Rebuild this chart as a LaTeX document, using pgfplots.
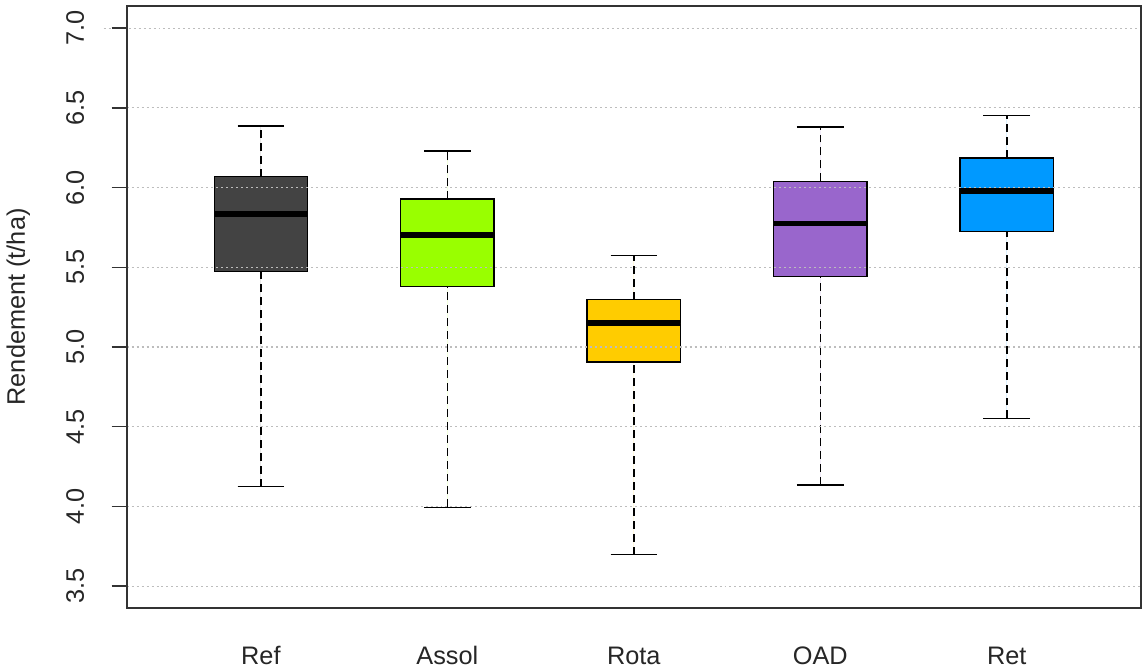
\documentclass[border=0pt]{standalone}
\usepackage{fontspec}
\setmainfont{Liberation Sans}
\usepackage{pgfplots}
\pgfplotsset{compat=1.18}
\usepgfplotslibrary{statistics}
\definecolor{cref}{HTML}{434343}
\definecolor{cassol}{HTML}{99FF00}
\definecolor{crota}{HTML}{FFCC00}
\definecolor{coad}{HTML}{9966CC}
\definecolor{cret}{HTML}{0099FF}
\definecolor{axgray}{HTML}{333333}
\definecolor{gridgray}{HTML}{BDBDBD}
\newcommand{\lblfont}{\fontsize{12.7}{15}\selectfont}
\pgfplotsset{
  boxplot/draw/lower whisker/.code={%
    \draw[dash pattern=on 4pt off 2.5pt] (boxplot cs:\pgfplotsboxplotvalue{lower whisker}) -- (boxplot cs:\pgfplotsboxplotvalue{lower quartile});
    \draw[solid] (boxplot whisker cs:\pgfplotsboxplotvalue{lower whisker},0) -- (boxplot whisker cs:\pgfplotsboxplotvalue{lower whisker},1);
  },
  boxplot/draw/upper whisker/.code={%
    \draw[dash pattern=on 4pt off 2.5pt] (boxplot cs:\pgfplotsboxplotvalue{upper quartile}) -- (boxplot cs:\pgfplotsboxplotvalue{upper whisker});
    \draw[solid] (boxplot whisker cs:\pgfplotsboxplotvalue{upper whisker},0) -- (boxplot whisker cs:\pgfplotsboxplotvalue{upper whisker},1);
  },
  boxplot/every median/.style={line width=2.8pt, draw=black},
  myb/.style={draw=black, line width=0.75pt, fill=#1, mark=none},
}
\begin{document}
\begin{tikzpicture}
\begin{axis}[
  scale only axis, width=509pt, height=302pt,
  xmin=0.28, xmax=5.72, ymin=3.364, ymax=7.139,
  axis line style={line width=0.9pt, draw=axgray},
  xtick={1,2,3,4,5}, xticklabels={Ref,Assol,Rota,OAD,Ret},
  ytick={3.5,4,4.5,5,5.5,6,6.5,7},
  yticklabels={3.5,4.0,4.5,5.0,5.5,6.0,6.5,7.0},
  tick align=outside, major tick length=7.5pt,
  xtick pos=bottom, ytick pos=left,
  x tick style={draw=none},
  y tick style={line width=0.75pt, draw=axgray},
  ymajorgrids,
  major grid style={draw=gridgray, line width=0.6pt, dash pattern=on 1pt off 1.5pt, shorten <=-11.5pt},
  axis on top,
  ticklabel style={font=\lblfont, text=black!85},
  xticklabel style={anchor=base},
  xticklabel shift=20.8pt,
  yticklabel style={rotate=90, anchor=base},
  yticklabel shift=14pt,
  boxplot/draw direction=y,
  boxplot/box extend=0.5,
  boxplot/whisker extend=0.25,
]
\addplot[myb=cref, boxplot prepared={draw position=1, lower whisker=4.125, lower quartile=5.473, median=5.833, upper quartile=6.069, upper whisker=6.385}] coordinates {};
\addplot[myb=cassol, boxplot prepared={draw position=2, lower whisker=3.994, lower quartile=5.379, median=5.704, upper quartile=5.927, upper whisker=6.229}] coordinates {};
\addplot[myb=crota, boxplot prepared={draw position=3, lower whisker=3.698, lower quartile=4.906, median=5.150, upper quartile=5.298, upper whisker=5.573}] coordinates {};
\addplot[myb=coad, boxplot prepared={draw position=4, lower whisker=4.135, lower quartile=5.441, median=5.775, upper quartile=6.039, upper whisker=6.381}] coordinates {};
\addplot[myb=cret, boxplot prepared={draw position=5, lower whisker=4.552, lower quartile=5.725, median=5.979, upper quartile=6.187, upper whisker=6.452}] coordinates {};
\end{axis}
\node[rotate=90, anchor=base, font=\lblfont, text=black!85] at ([xshift=-51pt]current axis.west) {Rendement (t/ha)};
\path ([shift={(-61.5pt,-31.5pt)}]current axis.south west) rectangle ([shift={(1.5pt,3pt)}]current axis.north east);
\end{tikzpicture}
\end{document}
